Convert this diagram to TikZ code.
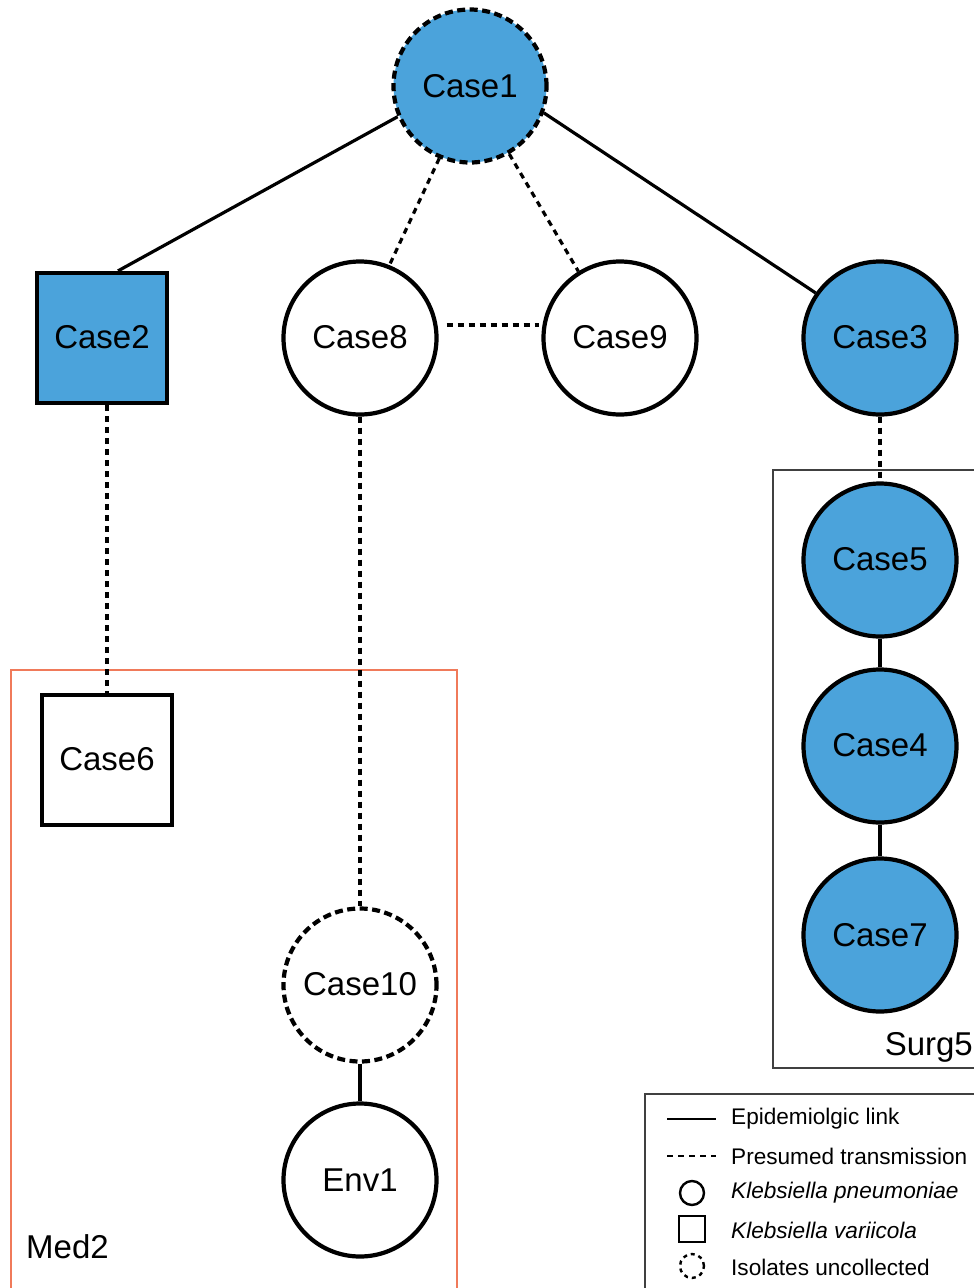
\documentclass[tikz,border=0pt]{standalone}
\usepackage{fontspec}
\setmainfont{Liberation Sans}
\definecolor{nodeblue}{HTML}{4BA3DB}
\definecolor{medorange}{HTML}{F07A5A}
\definecolor{boxgray}{HTML}{404040}
\begin{document}
\begin{tikzpicture}[x=1pt,y=-1pt,
  every node/.style={font=\fontsize{33}{40}\selectfont},
  casecirc/.style={circle,draw=black,line width=4.2pt,minimum size=153pt,inner sep=0pt},
  casesq/.style={rectangle,draw=black,line width=4.2pt,minimum size=130pt,inner sep=0pt},
  uncoll/.style={dash pattern=on 8pt off 4.5pt},
  filled/.style={fill=nodeblue},
  link/.style={line width=3.2pt},
  presumed/.style={line width=3.2pt,dash pattern=on 6pt off 5pt},
  groupbox/.style={line width=1.4pt},
  legtext/.style={font=\fontsize{22.6}{27}\selectfont,anchor=west,inner sep=0pt}
]
\useasboundingbox (0,0) rectangle (974,1288);
\clip (0,0) rectangle (974,1288);

% group boxes
\draw[groupbox,draw=medorange] (11,670) rectangle (457,1300);
\draw[groupbox,draw=boxgray] (773,470) rectangle (990,1068);
\node[anchor=west,inner sep=0pt] (med2) at (26,1247) {Med2};
\node[anchor=east,inner sep=0pt] (surg5) at (973,1047) {Surg5};

% nodes
\node[casecirc,filled,uncoll] (c1) at (470,86) {Case1};
\node[casesq,filled] (c2) at (102,338) {\raisebox{3pt}{Case2}};
\node[casecirc] (c8) at (360,338) {\raisebox{3pt}{Case8}};
\node[casecirc] (c9) at (620,338) {\raisebox{3pt}{Case9}};
\node[casecirc,filled] (c3) at (880,338) {\raisebox{3pt}{Case3}};
\node[casecirc,filled] (c5) at (880,560) {\raisebox{3pt}{Case5}};
\node[casecirc,filled] (c4) at (880,746) {\raisebox{3pt}{Case4}};
\node[casecirc,filled] (c7) at (880,935) {Case7};
\node[casesq] (c6) at (107,760) {\raisebox{3pt}{Case6}};
\node[casecirc,uncoll] (c10) at (360,985) {\raisebox{3pt}{Case10}};
\node[casecirc] (env1) at (360,1180) {Env1};

% connectors
\draw[link] (c1.203) -- ([xshift=16pt]c2.north);
\draw[link] (c1.-20) -- (c3.145);
\draw[presumed] (c1.247) -- (c8.68);
\draw[presumed] (c1.-60) -- (c9.122);
\draw[presumed] ([shift={(8pt,13pt)}]c8.east) -- ([shift={(-2pt,13pt)}]c9.west);
\draw[presumed] ([xshift=5pt]c2.south) -- (c6.north);
\draw[presumed] (c8.south) -- (c10.north);
\draw[link] (c10.south) -- (env1.north);
\draw[presumed] (c3.south) -- (c5.north);
\draw[link] (c5.south) -- (c4.north);
\draw[link] (c4.south) -- (c7.north);

% legend
\draw[groupbox,draw=boxgray] (645,1094) rectangle (990,1300);
\coordinate (l1a) at (667,1119);
\coordinate (l1b) at (716,1119);
\coordinate (l2a) at (667,1156);
\coordinate (l2b) at (716,1156);
\draw[line width=2.4pt] (l1a) -- (l1b);
\draw[line width=2.4pt,dash pattern=on 6pt off 5pt] (l2a) -- (l2b);
\node[circle,draw,line width=2.4pt,minimum size=24pt,inner sep=0pt] (lcirc) at (692,1193) {};
\node[rectangle,draw,line width=2.4pt,minimum size=26pt,inner sep=0pt] (lsq) at (692,1229) {};
\node[circle,draw,line width=2.4pt,minimum size=24pt,inner sep=0pt,dash pattern=on 4pt off 4pt] (ldash) at (692,1266) {};
\node[legtext] (t1) at (731,1119) {Epidemiolgic link};
\node[legtext] (t2) at (731,1156) {Presumed transmission};
\node[legtext] (t3) at (731,1193) {\itshape Klebsiella pneumoniae};
\node[legtext] (t4) at (731,1230) {\itshape Klebsiella variicola};
\node[legtext] (t5) at (731,1267) {Isolates uncollected};
\end{tikzpicture}
\end{document}
